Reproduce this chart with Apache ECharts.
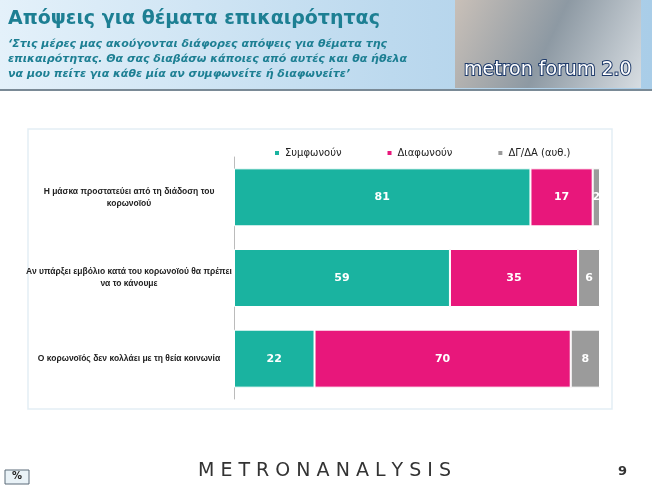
<!DOCTYPE html>
<html>
<head>
<meta charset="utf-8">
<script src="https://cdn.jsdelivr.net/npm/echarts@6/dist/echarts.min.js"></script>
<style>html,body{margin:0;padding:0;background:#fff}#chart{width:652px;height:489px}</style>
</head>
<body>
<div id="chart"></div>
<script>
var categories = ['Η μάσκα προστατεύει από τη διάδοση του\nκορωνοϊού',
                  'Αν υπάρξει εμβόλιο κατά του κορωνοϊού θα πρέπει\nνα το κάνουμε',
                  'Ο κορωνοϊός δεν κολλάει με τη θεία κοινωνία'];
var agree = [81, 59, 22];
var disagree = [17, 35, 70];
var dk = [2, 6, 8];

var chart = echarts.init(document.getElementById('chart'));

function barSeries(name, data, color) {
  return {
    name: name,
    type: 'bar',
    stack: 'all',
    barWidth: 58,
    data: data,
    itemStyle: { color: color, borderColor: '#fff', borderWidth: 1 },
    label: {
      show: true,
      color: '#fff',
      fontWeight: 'bold',
      fontSize: 11,
      fontFamily: 'DejaVu Sans'
    }
  };
}

option = {
  animation: false,
  backgroundColor: '#fff',
  legend: {
    top: 143,
    left: 268,
    itemGap: 44,
    itemWidth: 6,
    itemHeight: 6,
    icon: 'rect',
    textStyle: { fontSize: 10, color: '#222', fontFamily: 'DejaVu Sans' },
    data: ['Συμφωνούν', 'Διαφωνούν', 'ΔΓ/ΔΑ (αυθ.)']
  },
  grid: { left: 234, right: 52, top: 157, bottom: 90 },
  xAxis: { type: 'value', min: 0, max: 100, show: false },
  yAxis: {
    type: 'category',
    inverse: true,
    data: categories,
    axisLine: { show: true, lineStyle: { color: '#bbb' } },
    axisTick: { show: false },
    axisLabel: { fontSize: 8.5, fontWeight: 'bold', color: '#222', align: 'center', margin: 105, lineHeight: 12, fontFamily: 'Liberation Sans' }
  },
  series: [
    barSeries('Συμφωνούν', agree, '#1ab3a0'),
    barSeries('Διαφωνούν', disagree, '#e8177b'),
    barSeries('ΔΓ/ΔΑ (αυθ.)', dk, '#9b9b9b')
  ],
  graphic: [
    { type: 'rect', z: -10, shape: { x: 0, y: 0, width: 652, height: 89 },
      style: { fill: new echarts.graphic.LinearGradient(0, 0, 1, 0, [{ offset: 0, color: '#e4f1fa' }, { offset: 0.6, color: '#bcd9ee' }, { offset: 1, color: '#a9cde8' }]) } },
    { type: 'rect', shape: { x: 0, y: 89, width: 652, height: 2 }, style: { fill: '#7a8a96' } },
    { type: 'text', left: 8, top: 10, style: { text: 'Απόψεις για θέματα επικαιρότητας', fill: '#1d7f93', font: 'bold 19px "DejaVu Sans"' } },
    { type: 'text', left: 8, top: 37, style: { text: '‘Στις μέρες μας ακούγονται διάφορες απόψεις για θέματα της\nεπικαιρότητας. Θα σας διαβάσω κάποιες από αυτές και θα ήθελα\nνα μου πείτε για κάθε μία αν συμφωνείτε ή διαφωνείτε’', fill: '#1d7f93', font: 'italic bold 11px "DejaVu Sans"', lineHeight: 15 } },
    { type: 'rect', shape: { x: 455, y: 0, width: 186, height: 88 },
      style: { fill: new echarts.graphic.LinearGradient(0, 0, 1, 1, [{ offset: 0, color: '#c9c0b8' }, { offset: 0.5, color: '#8d99a3' }, { offset: 1, color: '#d7dde2' }]) } },
    { type: 'text', left: 463, top: 60, style: { text: 'metron forum 2.0', fill: '#fff', stroke: '#1e3a6a', lineWidth: 2, font: '19px "DejaVu Sans"' } },
    { type: 'rect', z: -5, shape: { x: 28, y: 129, width: 584, height: 280 }, style: { fill: '#fff', stroke: '#e3eef5', lineWidth: 1.5 } },
    { type: 'text', left: 198, top: 462, style: { text: 'M E T R O N A N A L Y S I S', fill: '#333', font: '19px "DejaVu Sans"' } },
    { type: 'text', left: 618, top: 465, style: { text: '9', fill: '#333', font: 'bold 13px "DejaVu Sans"' } },
    { type: 'rect', shape: { x: 5, y: 470, width: 24, height: 14 }, style: { fill: '#e9f2f7', stroke: '#5a6b78', lineWidth: 1 } },
    { type: 'text', left: 12, top: 471, style: { text: '%', fill: '#222', font: 'bold 10px "DejaVu Sans"' } }
  ]
};

chart.setOption(option);
</script>
</body>
</html>
